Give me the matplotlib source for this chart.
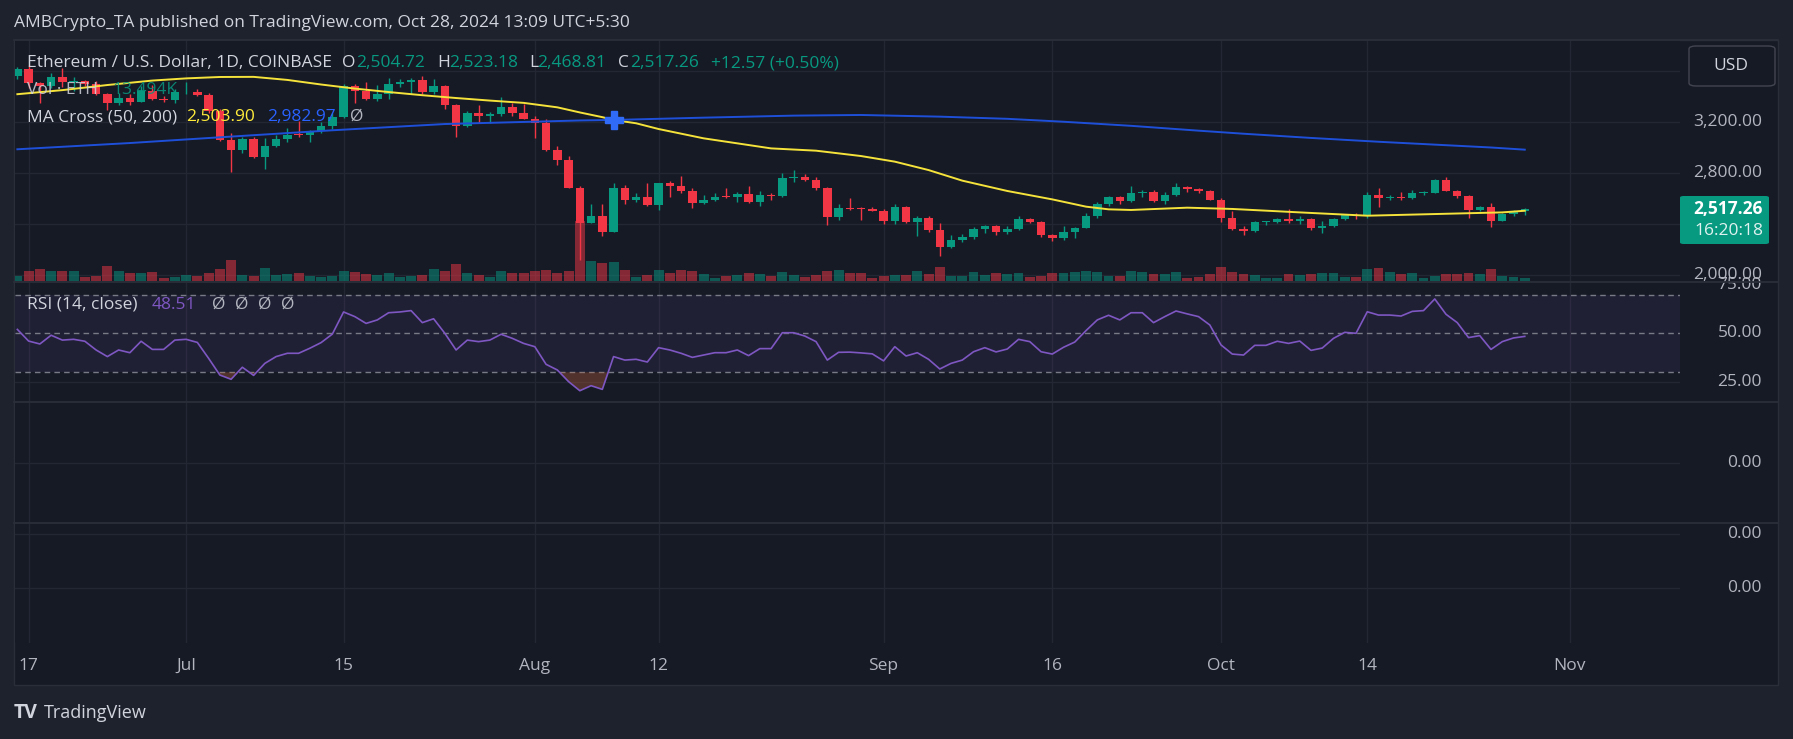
import numpy as np
import pandas as pd
import matplotlib
matplotlib.use("Agg")
import matplotlib.pyplot as plt
import matplotlib.dates as mdates
from matplotlib.patches import Rectangle, FancyBboxPatch
from matplotlib.transforms import blended_transform_factory

# ---- data (ETH/USD daily, Coinbase) ----
dates = pd.date_range("2024-06-16", "2024-10-28", freq="D")

opens = [3560, 3618, 3505, 3482, 3555, 3515, 3520, 3495, 3420, 3350, 3390, 3360, 3445, 3378, 3370,
         3432, 3436, 3410, 3285, 3058, 2980, 3066, 2922, 3015, 3064, 3100, 3096, 3132, 3166, 3238,
         3482, 3440, 3378, 3420, 3498, 3510, 3530, 3432, 3482, 3330, 3165, 3268, 3245, 3262, 3315, 3270,
         3225, 3196, 2982, 2900, 2685, 2410, 2463, 2340, 2680, 2590, 2612, 2552, 2718, 2700, 2656,
         2568, 2590, 2614, 2610, 2636, 2570, 2628, 2622, 2760, 2768, 2742, 2680, 2455, 2525, 2520, 2518,
         2505, 2420, 2535, 2415, 2444, 2355, 2220, 2272, 2298, 2360, 2385, 2335, 2360, 2438, 2412,
         2312, 2288, 2338, 2372, 2462, 2556, 2608, 2578, 2642, 2648, 2578, 2630, 2690, 2675, 2658,
         2590, 2445, 2360, 2345, 2415, 2417, 2440, 2420, 2440, 2365, 2385, 2438, 2472, 2462,
         2628, 2604, 2610, 2606, 2642, 2646, 2745, 2662, 2616, 2512, 2535, 2425, 2478, 2504.72]
highs = [3630, 3650, 3515, 3585, 3620, 3555, 3530, 3525, 3430, 3430, 3420, 3480, 3490, 3400, 3455,
         3510, 3460, 3430, 3300, 3110, 3080, 3085, 3075, 3100, 3150, 3205, 3140, 3200, 3270, 3495,
         3500, 3516, 3490, 3545, 3540, 3545, 3560, 3534, 3490, 3340, 3285, 3330, 3275, 3398, 3350, 3338,
         3245, 3220, 3015, 2930, 2700, 2557, 2555, 2720, 2705, 2640, 2719, 2724, 2740, 2776, 2680,
         2630, 2640, 2685, 2650, 2695, 2655, 2645, 2800, 2820, 2790, 2765, 2690, 2560, 2600, 2530, 2530,
         2520, 2560, 2545, 2460, 2460, 2410, 2310, 2325, 2375, 2395, 2390, 2385, 2460, 2450,
         2420, 2320, 2385, 2375, 2490, 2570, 2620, 2618, 2700, 2670, 2665, 2650, 2725, 2700, 2685,
         2665, 2600, 2500, 2385, 2420, 2425, 2450, 2518, 2465, 2445, 2420, 2445, 2480, 2490,
         2653, 2685, 2630, 2650, 2665, 2655, 2750, 2771, 2670, 2625, 2545, 2562, 2485, 2510, 2523.18]
lows = [3540, 3465, 3350, 3465, 3475, 3445, 3480, 3410, 3295, 3330, 3330, 3355, 3375, 3355, 3350,
        3420, 3405, 3270, 3050, 2810, 2960, 2915, 2830, 3005, 3045, 3080, 3045, 3110, 3145, 3230,
        3346, 3370, 3365, 3377, 3475, 3417, 3420, 3420, 3299, 3085, 3160, 3190, 3195, 3250, 3250, 3220,
        3077, 2975, 2860, 2680, 2118, 2405, 2306, 2335, 2555, 2575, 2545, 2510, 2612, 2640, 2523,
        2555, 2580, 2602, 2570, 2565, 2540, 2585, 2615, 2730, 2735, 2670, 2390, 2430, 2510, 2430, 2500,
        2400, 2400, 2410, 2308, 2340, 2152, 2215, 2255, 2280, 2330, 2315, 2320, 2350, 2405,
        2300, 2270, 2275, 2290, 2370, 2450, 2545, 2555, 2570, 2610, 2570, 2560, 2620, 2650, 2645,
        2585, 2415, 2355, 2310, 2340, 2395, 2405, 2405, 2400, 2355, 2330, 2380, 2430, 2440,
        2444, 2536, 2590, 2590, 2598, 2625, 2640, 2655, 2605, 2450, 2500, 2380, 2420, 2465, 2468.81]
closes = [3615, 3505, 3482, 3555, 3515, 3520, 3495, 3420, 3350, 3390, 3360, 3445, 3378, 3370, 3432,
          3436, 3410, 3285, 3058, 2980, 3066, 2922, 3015, 3064, 3100, 3096, 3132, 3166, 3238, 3482,
          3440, 3378, 3420, 3498, 3510, 3530, 3432, 3482, 3330, 3165, 3268, 3245, 3262, 3315, 3270, 3225,
          3196, 2982, 2900, 2685, 2410, 2463, 2340, 2680, 2590, 2612, 2552, 2718, 2700, 2656, 2568,
          2590, 2614, 2610, 2636, 2570, 2628, 2622, 2760, 2768, 2742, 2680, 2455, 2525, 2520, 2518, 2505,
          2420, 2535, 2415, 2444, 2355, 2220, 2272, 2298, 2360, 2385, 2335, 2360, 2438, 2412, 2312,
          2288, 2338, 2372, 2462, 2556, 2608, 2578, 2642, 2648, 2578, 2630, 2690, 2675, 2658, 2590,
          2445, 2360, 2345, 2415, 2417, 2440, 2420, 2440, 2365, 2385, 2438, 2472, 2462, 2628,
          2604, 2610, 2606, 2642, 2646, 2745, 2662, 2616, 2512, 2535, 2425, 2478, 2505, 2517.26]

volume_k = [89, 172, 200, 172, 172, 172, 67, 89, 256, 172, 134, 134, 150, 50, 67,
            100, 89, 134, 200, 351, 100, 89, 217, 100, 117, 134, 89, 75, 89, 172,
            150, 117, 105, 134, 67, 89, 105, 200, 172, 289, 134, 105, 67, 172, 134, 134,
            172, 189, 134, 172, 1002, 339, 306, 322, 189, 67, 105, 189, 134, 189, 172,
            117, 50, 89, 105, 134, 117, 89, 150, 105, 67, 105, 172, 189, 134, 134, 50,
            89, 105, 105, 172, 117, 239, 89, 89, 150, 105, 134, 117, 134, 67, 89,
            134, 134, 150, 172, 150, 89, 89, 172, 150, 117, 117, 150, 50, 67, 117,
            239, 150, 117, 100, 50, 50, 117, 100, 117, 134, 134, 67, 67, 200,
            217, 150, 117, 134, 50, 89, 117, 117, 134, 117, 200, 89, 67, 50]

rsi = [52.1, 46.1, 44.6, 49.1, 46.6, 47.0, 46.0, 41.5, 38.1, 41.5, 40.1, 46.0, 41.8, 41.8, 46.6,
       47.0, 45.4, 37.2, 28.6, 26.4, 32.6, 28.4, 34.6, 38.1, 39.8, 39.8, 42.4, 45.3, 49.7, 61.1,
       58.7, 55.2, 57.0, 60.7, 61.1, 61.8, 55.6, 57.6, 50.1, 41.5, 46.6, 45.8, 46.6, 49.6, 47.5, 44.9,
       43.2, 34.1, 31.2, 25.2, 20.5, 23.1, 21.2, 38.1, 36.3, 36.7, 35.3, 42.7, 41.5, 39.8, 37.7,
       38.9, 40.1, 40.1, 41.5, 38.6, 42.2, 42.2, 50.4, 50.4, 48.7, 45.8, 36.3, 40.3, 40.4, 40.0, 39.5,
       35.9, 43.2, 38.4, 40.1, 36.7, 31.7, 34.6, 36.3, 40.6, 42.7, 40.5, 42.0, 47.0, 45.8, 40.6,
       39.4, 42.9, 45.6, 51.5, 57.0, 59.4, 57.0, 60.7, 60.7, 55.6, 58.7, 61.6, 60.1, 58.7, 54.4,
       44.1, 39.4, 38.9, 43.9, 43.9, 46.0, 44.9, 46.1, 41.3, 42.5, 47.5, 50.6, 50.1, 61.2,
       59.5, 59.5, 59.0, 61.4, 61.8, 67.8, 59.9, 55.6, 47.9, 48.9, 41.8, 45.8, 47.7, 48.51]

# moving averages, read at points along the lines
ma50_dates = ["2024-06-16", "2024-06-20", "2024-06-24", "2024-06-28", "2024-07-01", "2024-07-04",
              "2024-07-07", "2024-07-10", "2024-07-13", "2024-07-16", "2024-07-19", "2024-07-22",
              "2024-07-25", "2024-07-28", "2024-07-31", "2024-08-03", "2024-08-05", "2024-08-07",
              "2024-08-08", "2024-08-10", "2024-08-12", "2024-08-16", "2024-08-22", "2024-08-26",
              "2024-08-30", "2024-09-02", "2024-09-05", "2024-09-08", "2024-09-12", "2024-09-16",
              "2024-09-19", "2024-09-21", "2024-09-23", "2024-09-28", "2024-10-02", "2024-10-08",
              "2024-10-14", "2024-10-20", "2024-10-26", "2024-10-28"]
ma50_vals = [3418, 3450, 3490, 3525, 3542, 3553, 3554, 3530, 3494, 3462, 3435, 3410,
             3388, 3368, 3350, 3315, 3275, 3238, 3216, 3190, 3145, 3072, 2993, 2975,
             2933, 2889, 2823, 2740, 2659, 2593, 2536, 2515, 2510, 2528, 2518, 2491,
             2465, 2478, 2491, 2503.9]
ma200_dates = ["2024-06-16", "2024-06-26", "2024-07-04", "2024-07-14", "2024-07-24", "2024-08-05",
               "2024-08-08", "2024-08-16", "2024-08-24", "2024-08-30", "2024-09-06", "2024-09-12",
               "2024-09-17", "2024-09-23", "2024-09-29", "2024-10-03", "2024-10-09", "2024-10-15",
               "2024-10-21", "2024-10-25", "2024-10-28"]
ma200_vals = [2986, 3035, 3080, 3135, 3184, 3212, 3216, 3234, 3250, 3255, 3242, 3225,
              3202, 3170, 3132, 3108, 3075, 3045, 3018, 3000, 2982.97]
cross_date = "2024-08-08"
cross_val = 3216

tick_dates = ["2024-06-17", "2024-07-01", "2024-07-15", "2024-08-01", "2024-08-12", "2024-09-01",
              "2024-09-16", "2024-10-01", "2024-10-14", "2024-11-01"]
tick_labels = ["17", "Jul", "15", "Aug", "12", "Sep", "16", "Oct", "14", "Nov"]
price_ticks = [2000, 2400, 2800, 3200, 3600]
price_labels = ["2,000.00", "", "2,800.00", "3,200.00", ""]

# ---- style ----
W, H = 1793, 739
OUTER = "#1e222d"
BG = "#161a25"
GRID = "#232633"
SEP = "#2a2e39"
TXT = "#d1d4dc"
AX_TXT = "#b2b5be"
UP = "#089981"
DOWN = "#f23645"
FS = 12.5
plt.rcParams["font.family"] = ["Open Sans", "DejaVu Sans"]

fig = plt.figure(figsize=(W / 100, H / 100), dpi=100, facecolor=OUTER)


def rect(top, bottom, left=15, right=1680):
    return [left / W, 1 - bottom / H, (right - left) / W, (bottom - top) / H]


def ftext(x, y, s, color=TXT, size=FS, **kw):
    return fig.text(x / W, 1 - y / H, s, color=color, fontsize=size, va="center", ha="left", **kw)


def fig_clip(top, bottom, left=1680, right=1778):
    return Rectangle((left / W, 1 - bottom / H), (right - left) / W, (bottom - top) / H,
                     transform=fig.transFigure)


# chart frame
fig.patches.append(Rectangle((14 / W, 1 - 685 / H), 1764 / W, 645 / H, transform=fig.transFigure,
                             facecolor=BG, edgecolor=SEP, lw=1, zorder=-5))

x = mdates.date2num(dates)
x0 = mdates.date2num(pd.Timestamp("2024-06-16"))
xlim = (x0 - 0.21, x0 + 147.8)
up = np.array(closes) >= np.array(opens)

# main pane with volume underneath
ax_vol = fig.add_axes(rect(40, 281))
ax_main = ax_vol.twinx()
ax_vol.set_zorder(1)
ax_main.set_zorder(2)
ax_main.patch.set_visible(False)
ax_vol.set_facecolor(BG)
ax_main.set_ylim(1952.9, 3843.1)
ax_vol.set_ylim(0, 4017)

rsi_ax = fig.add_axes(rect(283, 402))
p3 = fig.add_axes(rect(403, 523))
p4 = fig.add_axes(rect(524, 643))
for a in (p3, p4, rsi_ax):
    a.set_facecolor(BG)
    a.set_zorder(1)

for a in (ax_vol, ax_main, rsi_ax, p3, p4):
    a.set_xlim(*xlim)
    a.set_xticks([])
    a.set_yticks([])
    for s in a.spines.values():
        s.set_visible(False)

# vertical grid
for a in (ax_vol, rsi_ax, p3, p4):
    for d in tick_dates:
        a.axvline(mdates.date2num(pd.Timestamp(d)), color=GRID, lw=1, zorder=0)

# horizontal price grid drawn on the volume axes, positioned by price
gtrans = blended_transform_factory(ax_vol.transAxes, ax_main.transData)
for p in price_ticks:
    ax_vol.plot([0, 1], [p, p], color=GRID, lw=1, transform=gtrans, zorder=0)

# volume
vol_colors = [UP if u else DOWN for u in up]
ax_vol.bar(x, volume_k, width=0.88, color=vol_colors, alpha=0.5, zorder=1)

# candles
colors = [UP if u else DOWN for u in up]
ax_main.vlines(x, lows, highs, colors=colors, lw=1.0, zorder=2)
body_lo = np.minimum(opens, closes)
body_h = np.maximum(np.abs(np.array(closes) - np.array(opens)), 7)
ax_main.bar(x, body_h, bottom=body_lo, width=0.75, color=colors, zorder=3)

# moving averages
ax_main.plot(mdates.date2num(pd.to_datetime(ma50_dates)), ma50_vals, color="#f5e33b", lw=1.4, zorder=4)
ax_main.plot(mdates.date2num(pd.to_datetime(ma200_dates)), ma200_vals, color="#1e4fd8", lw=1.4, zorder=4)
ax_main.plot([mdates.date2num(pd.Timestamp(cross_date))], [cross_val], marker="P", ms=13,
             color="#2f6bf6", mec="#2f6bf6", zorder=5)

# price labels
ptrans = blended_transform_factory(ax_main.transAxes, ax_main.transData)
for p, lab in zip(price_ticks, price_labels):
    if lab:
        t = ax_main.text((1762 - 15) / 1665, p, lab, transform=ptrans, ha="right", va="center",
                         color=AX_TXT, fontsize=FS)
        t.set_clip_path(fig_clip(40, 281))

# RSI pane
rsi_ax.set_ylim(14.69, 76.03)
rsi_ax.axhspan(30, 70, color="#7e57c2", alpha=0.1, lw=0, zorder=0)
for lvl in (70, 50, 30):
    rsi_ax.axhline(lvl, color="#787b86", lw=1, ls=(0, (4, 3)), zorder=1)
rsi_ax.axhline(25, color=GRID, lw=1, zorder=0)
rsi_arr = np.array(rsi)
rsi_ax.fill_between(x, rsi_arr, 30, where=rsi_arr < 30, interpolate=True,
                    color="#c0603a", alpha=0.35, lw=0, zorder=1)
rsi_ax.plot(x, rsi, color="#7e57c2", lw=1.2, zorder=2)
rtrans = blended_transform_factory(rsi_ax.transAxes, rsi_ax.transData)
for lvl in (75, 50, 25):
    t = rsi_ax.text((1762 - 15) / 1665, lvl, f"{lvl:.2f}", transform=rtrans, ha="right", va="center",
                    color=AX_TXT, fontsize=FS)
    t.set_clip_path(fig_clip(283, 402))

# empty panes
p3.set_ylim(-1, 1)
p3.axhline(0.0, color=GRID, lw=1)
p4.set_ylim(-1, 1)
p4.axhline(0.84, color=GRID, lw=1)
p4.axhline(-0.07, color=GRID, lw=1)
for a, lvls in ((p3, [0.0]), (p4, [0.84, -0.07])):
    t = blended_transform_factory(a.transAxes, a.transData)
    for lv in lvls:
        a.text((1762 - 15) / 1665, lv, "0.00", transform=t, ha="right", va="center",
               color=AX_TXT, fontsize=FS, clip_on=False)

# pane separators
for yy in (40, 282, 402, 523):
    fig.lines.append(plt.Line2D([14 / W, 1778 / W], [1 - yy / H, 1 - yy / H], transform=fig.transFigure,
                                color=SEP, lw=1.3, zorder=3))

# date labels
dtrans = blended_transform_factory(p4.transData, fig.transFigure)
for d, lab in zip(tick_dates, tick_labels):
    p4.text(mdates.date2num(pd.Timestamp(d)), 1 - 666 / H, lab, transform=dtrans, ha="center",
            va="center", color=AX_TXT, fontsize=FS, clip_on=False)

# header & legends
ftext(14, 23, "AMBCrypto_TA published on TradingView.com, Oct 28, 2024 13:09 UTC+5:30", TXT)
ftext(27, 63, "Ethereum / U.S. Dollar, 1D, COINBASE", TXT, zorder=4)
for xx, s, c in ((342, "O", TXT), (356, "2,504.72", UP), (437, "H", TXT), (449, "2,523.18", UP),
                 (529, "L", TXT), (537, "2,468.81", UP), (618, "C", TXT), (630, "2,517.26", UP),
                 (711, "+12.57 (+0.50%)", UP)):
    ftext(xx, 63, s, c, zorder=4)
ftext(27, 90, "Vol · ETH", TXT, alpha=0.85, zorder=4)
ftext(112, 90, "13.494K", UP, alpha=0.85, zorder=4)
ftext(27, 117, "MA Cross (50, 200)", TXT, zorder=4)
ftext(186, 117, "2,503.90", "#ffeb3b", zorder=4)
ftext(267, 117, "2,982.97", "#2962ff", zorder=4)
ftext(350, 117, "Ø", AX_TXT, zorder=4)
ftext(27, 305, "RSI (14, close)", TXT, zorder=4)
ftext(152, 305, "48.51", "#7e57c2", zorder=4)
for xx in (212, 235, 258, 281):
    ftext(xx, 305, "Ø", AX_TXT, zorder=4)

# USD box
fig.patches.append(FancyBboxPatch((1689 / W, 1 - 86 / H), 86 / W, 40 / H, transform=fig.transFigure,
                                  boxstyle="round,pad=0,rounding_size=0.004", facecolor=BG,
                                  edgecolor="#434651", lw=1, zorder=4))
fig.text(1731 / W, 1 - 66 / H, "USD", color=TXT, fontsize=FS, ha="center", va="center", zorder=5)

# last price box
fig.patches.append(FancyBboxPatch((1680 / W, 1 - 244 / H), 89 / W, 48 / H, transform=fig.transFigure,
                                  boxstyle="round,pad=0,rounding_size=0.002", facecolor=UP,
                                  edgecolor=UP, lw=0, zorder=5))
fig.text(1763 / W, 1 - 209 / H, "2,517.26", color="white", fontsize=FS, fontweight="bold",
         ha="right", va="center", zorder=6)
fig.text(1763 / W, 1 - 231 / H, "16:20:18", color="#e0f2ef", fontsize=FS, ha="right", va="center",
         zorder=6)

# footer logo
fig.text(14 / W, 1 - 713 / H, "TV", color=TXT, fontsize=14, fontweight="bold", va="center")
fig.text(44 / W, 1 - 713 / H, "TradingView", color=TXT, fontsize=13, va="center")

fig.savefig("out.png", dpi=100, facecolor=OUTER)
